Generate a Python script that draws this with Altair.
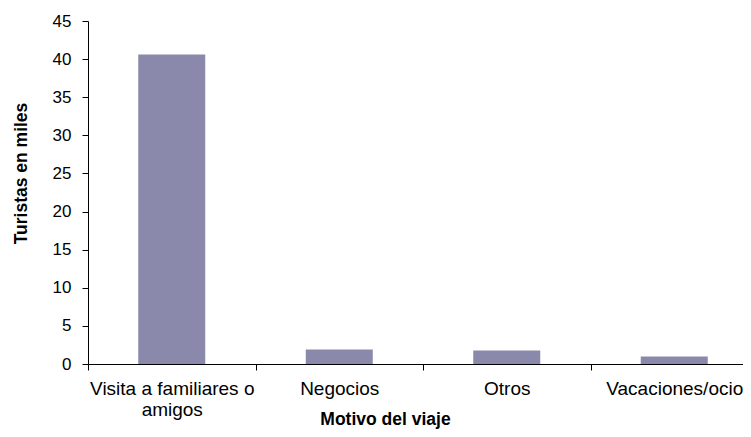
import altair as alt
import pandas as pd

categories = ["Visita a familiares o amigos", "Negocios", "Otros", "Vacaciones/ocio"]
values = [40.6, 1.9, 1.76, 1.0]
y_ticks = [0, 5, 10, 15, 20, 25, 30, 35, 40, 45]

df = pd.DataFrame({"motivo": categories, "turistas": values})

FONT = "Liberation Sans"

chart = alt.Chart(df).mark_bar(color="#8a89ab", width={"band": 0.4}).encode(
    x=alt.X(
        "motivo:N",
        sort=categories,
        scale=alt.Scale(paddingInner=0, paddingOuter=0, range=[0, 670]),
        axis=alt.Axis(
            title="Motivo del viaje",
            labelAngle=0,
            labelFont=FONT,
            labelFontSize=19,
            labelColor="#000000",
            labelPadding=9,
            labelLineHeight=21,
            labelBaseline="top",
            labelOverlap=False,
            labelBound=False,
            labelFlush=False,
            labelExpr="datum.value == 'Visita a familiares o amigos' ? ['Visita a familiares o', 'amigos'] : datum.label",
            tickBand="extent",
            tickSize=6,
            tickColor="#000000",
            domainColor="#000000",
            titleFont=FONT,
            titleFontSize=17.5,
            titleFontWeight="bold",
            titleColor="#000000",
            titleX=297,
            titleY=60.5,
            titleAlign="center",
            titleBaseline="alphabetic",
        ),
    ),
    y=alt.Y(
        "turistas:Q",
        scale=alt.Scale(domain=[0, 45], nice=False),
        axis=alt.Axis(
            title="Turistas en miles",
            values=y_ticks,
            grid=False,
            labelFont=FONT,
            labelFontSize=17,
            labelColor="#000000",
            labelPadding=11,
            tickSize=6,
            tickColor="#000000",
            domainColor="#000000",
            titleFont=FONT,
            titleFontSize=17.5,
            titleFontWeight="bold",
            titleColor="#000000",
            titleAngle=-90,
            titleX=-62,
            titleY=152,
            titleAlign="center",
            titleBaseline="alphabetic",
        ),
    ),
).properties(
    width=655,
    height=343,
    autosize=alt.AutoSizeParams(type="none"),
    padding={"left": 80, "top": 13, "right": 0, "bottom": 65},
).configure_view(stroke=None)

chart.save("out.html", embed_options={"renderer": "svg", "actions": False})
